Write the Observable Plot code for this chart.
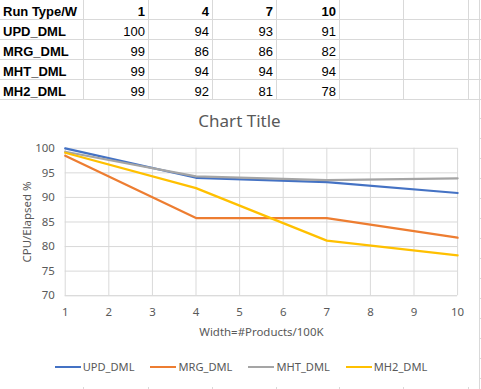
<!DOCTYPE html>
<html>
<head>
<meta charset="utf-8">
<script src="https://cdn.jsdelivr.net/npm/d3@7"></script>
<script src="https://cdn.jsdelivr.net/npm/@observablehq/plot@0.6"></script>
<style>
  html, body { margin: 0; padding: 0; background: #fff; }
  #page { position: relative; width: 481px; height: 389px; overflow: hidden; background: #fff; }
  #sheet { position: absolute; left: 0; top: 0; }
  #chartbox { position: absolute; left: 0; top: 100px; width: 479px; height: 287px; background: #fff; }
  #title { position: absolute; left: 0; width: 479px; top: 9px; text-align: center; font-family: "Noto Sans", sans-serif; font-size: 17px; color: #595959; line-height: 24px; }
  #plot { position: absolute; left: 0; top: 0; }
  #legend { position: absolute; left: 0; width: 482px; top: 259px; display: flex; justify-content: center; gap: 16px; font-family: "Noto Sans", sans-serif; font-size: 11.1px; color: #595959; line-height: 16px; }
  .item { display: flex; align-items: center; gap: 2px; }
  .sw { width: 26px; height: 2.5px; }
</style>
</head>
<body>
<div id="page">
  <svg id="sheet" width="481" height="389"></svg>
  <div id="chartbox">
    <div id="plot"></div>
    <div id="title">Chart Title</div>
    <div id="legend"></div>
  </div>
</div>
<script>
// ---- data ----
const headerLabel = "Run Type/W";
const widths = [1, 4, 7, 10];
const seriesNames = ["UPD_DML", "MRG_DML", "MHT_DML", "MH2_DML"];
// table values (as shown in the sheet)
const tableUPD = [100, 94, 93, 91];
const tableMRG = [99, 86, 86, 82];
const tableMHT = [99, 94, 94, 94];
const tableMH2 = [99, 92, 81, 78];
// plotted values
const updValues = [100, 94.0, 93.1, 90.9];
const mrgValues = [98.5, 85.8, 85.8, 81.8];
const mhtValues = [99.3, 94.3, 93.5, 93.9];
const mh2Values = [99.1, 91.9, 81.2, 78.2];
const xTicks = [1, 2, 3, 4, 5, 6, 7, 8, 9, 10];
const yTicks = [70, 75, 80, 85, 90, 95, 100];
const xLabel = "Width=#Products/100K";
const yLabel = "CPU/Elapsed %";
const colors = ["#4472C4", "#ED7D31", "#A5A5A5", "#FFC000"];

// ---- spreadsheet table ----
const tableRows = [tableUPD, tableMRG, tableMHT, tableMH2];
const colEdges = [0, 83, 148, 212, 276, 339, 403, 468];
const rowH = 20;
const sheet = d3.select("#sheet");
const gridC = "#d9d9d9";
for (let r = 1; r <= 5; r++) {
  sheet.append("line").attr("x1", 0).attr("x2", 481)
    .attr("y1", r * rowH - 0.5).attr("y2", r * rowH - 0.5).attr("stroke", gridC);
}
colEdges.slice(1).forEach(x => {
  sheet.append("line").attr("x1", x + 0.5).attr("x2", x + 0.5)
    .attr("y1", 0).attr("y2", 389).attr("stroke", gridC);
});
sheet.append("line").attr("x1", 479.5).attr("x2", 479.5).attr("y1", 0).attr("y2", 389).attr("stroke", gridC);
for (let r = 6; r <= 20; r++) {
  sheet.append("line").attr("x1", 0).attr("x2", 481)
    .attr("y1", r * rowH - 0.5 - 1).attr("y2", r * rowH - 0.5 - 1).attr("stroke", gridC);
}
const tStyle = t => t.attr("font-family", "'Liberation Sans', Arial, sans-serif").attr("font-size", 13).attr("fill", "#000");
// header row
tStyle(sheet.append("text").attr("x", 3).attr("y", 15.5).attr("font-weight", "bold").text(headerLabel));
widths.forEach((w, i) => {
  tStyle(sheet.append("text").attr("x", colEdges[i + 2] - 3).attr("y", 15.5)
    .attr("text-anchor", "end").attr("font-weight", "bold").text(w));
});
seriesNames.forEach((name, r) => {
  const y = (r + 1) * rowH + 15.5;
  tStyle(sheet.append("text").attr("x", 3).attr("y", y).attr("font-weight", "bold").text(name));
  tableRows[r].forEach((v, i) => {
    tStyle(sheet.append("text").attr("x", colEdges[i + 2] - 3).attr("y", y)
      .attr("text-anchor", "end").text(v));
  });
});

// ---- chart ----
const allValues = [updValues, mrgValues, mhtValues, mh2Values];
const data = [];
seriesNames.forEach((s, si) => widths.forEach((w, i) => data.push({series: s, w, v: allValues[si][i]})));

const plot = Plot.plot({
  width: 481,
  height: 240,
  marginTop: 48,
  marginBottom: 44,
  marginLeft: 65,
  marginRight: 22,
  style: {fontFamily: "'Noto Sans', sans-serif", fontSize: "11.5px", color: "#595959", background: "transparent"},
  x: {domain: [1, 10]},
  y: {domain: [70, 100]},
  color: {domain: seriesNames, range: colors},
  marks: [
    Plot.gridX(xTicks, {stroke: "#d9d9d9", strokeOpacity: 1}),
    Plot.gridY(yTicks, {stroke: "#d9d9d9", strokeOpacity: 1}),
    Plot.ruleY([70], {stroke: "#d9d9d9"}),
    Plot.axisX(xTicks, {tickSize: 0, tickPadding: 12, label: null, fill: "#595959"}),
    Plot.axisY(yTicks, {tickSize: 0, tickPadding: 10.5, label: null, fill: "#595959"}),
    Plot.line(data, {x: "w", y: "v", z: "series", stroke: "series", strokeWidth: 2.25, strokeLinejoin: "round", strokeLinecap: "round"}),
    Plot.text([xLabel], {frameAnchor: "bottom", dy: 36.5, lineAnchor: "middle", fill: "#595959"}),
    Plot.text([yLabel], {frameAnchor: "left", dx: -38, rotate: -90, textAnchor: "middle", lineAnchor: "middle", fill: "#595959"})
  ]
});
document.getElementById("plot").appendChild(plot);

// ---- legend ----
const legend = d3.select("#legend");
seriesNames.forEach((s, i) => {
  const it = legend.append("div").attr("class", "item");
  it.append("div").attr("class", "sw").style("background", colors[i]);
  it.append("span").text(s);
});
</script>
</body>
</html>
